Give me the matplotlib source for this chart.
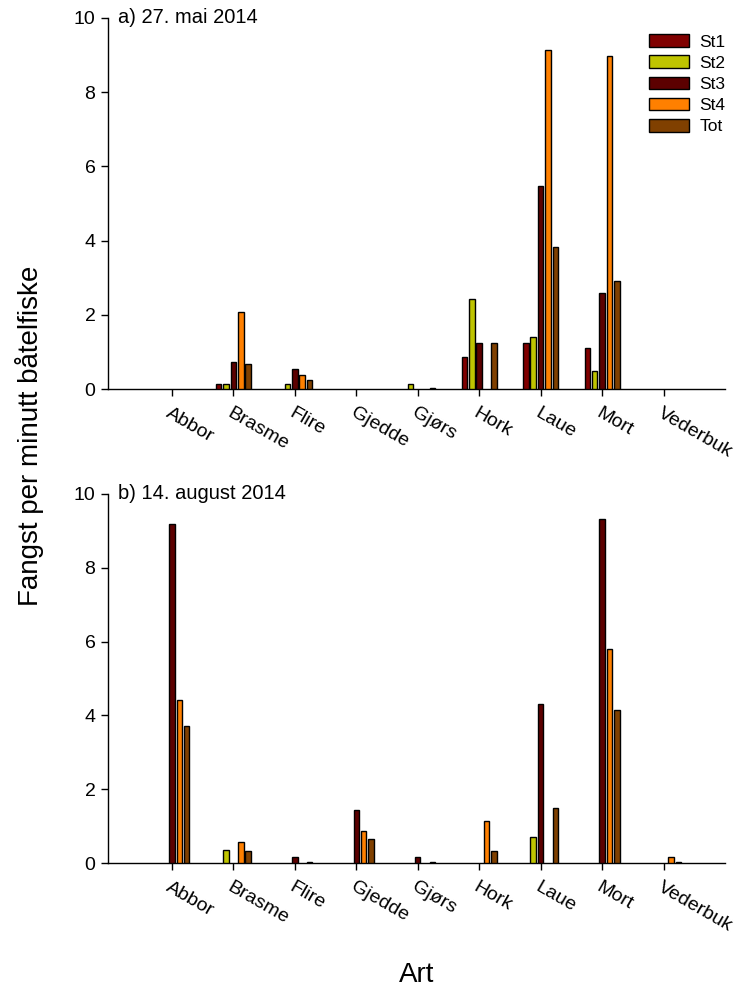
import matplotlib
matplotlib.use("Agg")
import matplotlib.pyplot as plt
import numpy as np

plt.rcParams['font.family'] = ['Liberation Sans', 'DejaVu Sans']

species = ["Abbor", "Brasme", "Flire", "Gjedde", "Gjørs", "Hork", "Laue", "Mort", "Vederbuk"]
series = ["St1", "St2", "St3", "St4", "Tot"]
colors = ["#800000", "#bfc400", "#5c0000", "#ff8000", "#804000"]

# a) 27. mai 2014
may_st1 = [0, 0.13, 0, 0, 0, 0.87, 1.23, 1.10, 0]
may_st2 = [0, 0.13, 0.13, 0, 0.13, 2.42, 1.39, 0.49, 0]
may_st3 = [0, 0.72, 0.55, 0, 0, 1.23, 5.47, 2.58, 0]
may_st4 = [0, 2.07, 0.37, 0, 0, 0, 9.13, 8.98, 0]
may_tot = [0, 0.67, 0.23, 0, 0.03, 1.23, 3.84, 2.92, 0]

# b) 14. august 2014
aug_st1 = [0, 0, 0, 0, 0, 0, 0, 0, 0]
aug_st2 = [0, 0.35, 0, 0, 0, 0, 0.70, 0, 0]
aug_st3 = [9.18, 0, 0.15, 1.44, 0.15, 0, 4.30, 9.31, 0]
aug_st4 = [4.41, 0.58, 0, 0.87, 0, 1.14, 0, 5.81, 0.15]
aug_tot = [3.71, 0.33, 0.03, 0.64, 0.03, 0.33, 1.48, 4.14, 0.03]

panels = [
    ("a) 27. mai 2014", [may_st1, may_st2, may_st3, may_st4, may_tot]),
    ("b) 14. august 2014", [aug_st1, aug_st2, aug_st3, aug_st4, aug_tot]),
]

fig = plt.figure(figsize=(7.41, 9.90), dpi=100)
left, width = 108 / 741, (725 - 108) / 741
rects = [
    [left, 1 - 389 / 990, width, (389 - 18) / 990],
    [left, 1 - 863 / 990, width, (863 - 494) / 990],
]

x = np.arange(len(species))
pitch = 0.12
bw = 0.09

for i, (title, data) in enumerate(panels):
    ax = fig.add_axes(rects[i])
    for j, (name, vals) in enumerate(zip(series, data)):
        v = np.array(vals, dtype=float)
        v[v == 0] = np.nan  # zero bars are not drawn in the reference
        ax.bar(x + (j - 2) * pitch, v, width=bw, color=colors[j],
               edgecolor="black", linewidth=1.0, label=name, zorder=3)
    ax.set_xlim(-1.04, 9.0)
    ax.set_ylim(0, 10)
    ax.set_yticks([0, 2, 4, 6, 8, 10])
    ax.set_xticks(x)
    ax.set_xticklabels(species, rotation=-30, ha="left", va="top",
                       rotation_mode="anchor")
    ax.spines["top"].set_visible(False)
    ax.spines["right"].set_visible(False)
    for s in ("left", "bottom"):
        ax.spines[s].set_linewidth(1.0)
    ax.tick_params(axis="y", direction="out", length=5, width=1.0,
                   labelsize=14, pad=4)
    ax.tick_params(axis="x", direction="out", length=5, width=1.0,
                   labelsize=14, pad=6)
    ax.text(0.016, 1.0, title, transform=ax.transAxes, ha="left",
            va="center", fontsize=14.5)
    if i == 0:
        ax.legend(loc="upper right", bbox_to_anchor=(1.012, 0.975), frameon=False,
                  fontsize=12.5, handlelength=2.3, handleheight=0.75,
                  labelspacing=0.33, handletextpad=0.6, borderaxespad=0.0)

fig.text(0.040, 0.56, "Fangst per minutt båtelfiske", rotation=90,
         ha="center", va="center", fontsize=20)
fig.text((108 + 725) / 2 / 741, 1 - 975 / 990, "Art", ha="center",
         va="center", fontsize=20)

fig.savefig("out.png", dpi=100)
